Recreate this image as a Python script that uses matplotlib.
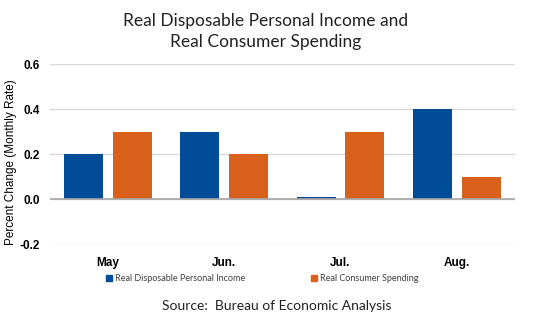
import numpy as np
import matplotlib
matplotlib.use("Agg")
import matplotlib.pyplot as plt
from matplotlib.patches import Rectangle

months = ["May", "Jun.", "Jul.", "Aug."]
income = [0.2, 0.3, 0.01, 0.4]
spending = [0.3, 0.2, 0.3, 0.1]
yticks = [-0.2, 0.0, 0.2, 0.4, 0.6]

blue = "#004C97"
orange = "#D9601A"

fig = plt.figure(figsize=(5.42, 3.32), dpi=100)
ax = fig.add_axes([0.092, 0.265, 0.858, 0.542])

x = np.arange(len(months))
w = 0.335
gap = 0.085
ax.bar(x - (w + gap) / 2, income, w, color=blue)
ax.bar(x + (w + gap) / 2, spending, w, color=orange)

ax.set_xlim(-0.5, len(months) - 0.5)
ax.set_ylim(-0.2, 0.6)
ax.set_yticks(yticks)
ax.set_yticklabels([f"{v:.1f}" for v in yticks])
ax.set_xticks(x)
ax.set_xticklabels(months)
for lab in ax.get_xticklabels() + ax.get_yticklabels():
    lab.set_fontfamily("Liberation Sans")
    lab.set_fontweight("bold")
    lab.set_fontsize(8.5)
ax.tick_params(length=0)
ax.tick_params(axis="x", pad=9)
ax.tick_params(axis="y", pad=7)

ax.grid(axis="y", color="#d9d9d9", linewidth=1)
ax.set_axisbelow(True)
ax.axhline(0, color="#a6a6a6", linewidth=1.2)
for s in ax.spines.values():
    s.set_visible(False)

ax.set_ylabel("Percent Change (Monthly Rate)", fontfamily="Liberation Sans",
              fontsize=8.5, va="center")
ax.yaxis.set_label_coords(-0.084, 0.455)

fig.text(0.49, 0.905, "Real Disposable Personal Income and\nReal Consumer Spending",
         ha="center", va="center", fontfamily="Lato", fontsize=12.5,
         linespacing=1.4, color="#222222")

# legend entries
fig.patches.append(Rectangle((0.195, 0.153), 0.011, 0.018, color=blue,
                             transform=fig.transFigure))
fig.text(0.212, 0.162, "Real Disposable Personal Income", fontfamily="Lato",
         fontsize=6.5, va="center", color="#404040")
fig.patches.append(Rectangle((0.574, 0.153), 0.011, 0.018, color=orange,
                             transform=fig.transFigure))
fig.text(0.591, 0.162, "Real Consumer Spending", fontfamily="Lato",
         fontsize=6.5, va="center", color="#404040")

fig.text(0.51, 0.078, "Source:  Bureau of Economic Analysis", ha="center",
         va="center", fontfamily="Lato", fontsize=10, color="#222222")

fig.savefig("out.png", dpi=100)
